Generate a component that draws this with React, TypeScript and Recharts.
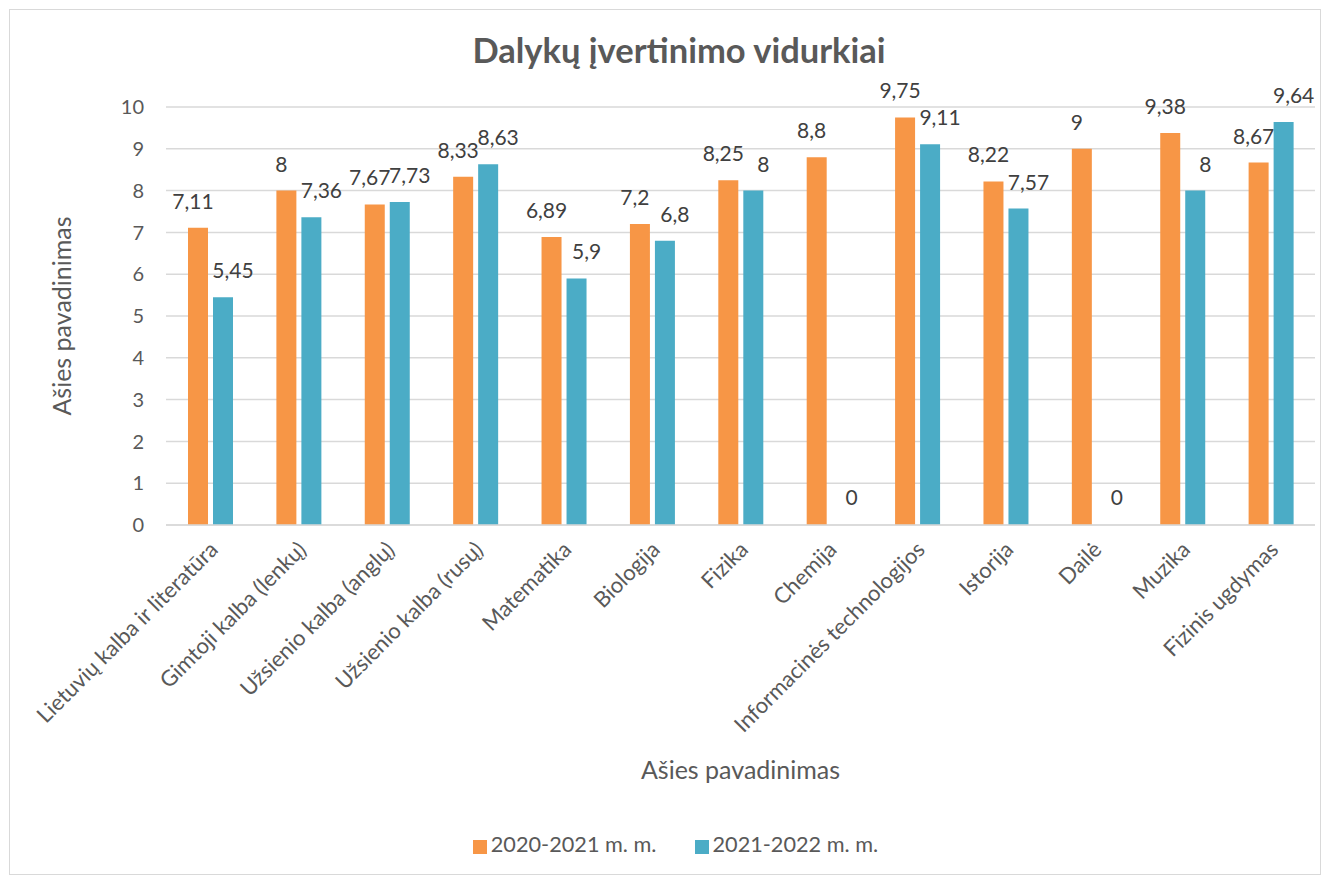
import React from "react";
import {
  BarChart,
  Bar,
  CartesianGrid,
  XAxis,
  YAxis,
  Legend,
  LabelList,
  Rectangle,
} from "recharts";

const subjects = [
  "Lietuvių kalba ir literatūra",
  "Gimtoji kalba (lenkų)",
  "Užsienio kalba (anglų)",
  "Užsienio kalba (rusų)",
  "Matematika",
  "Biologija",
  "Fizika",
  "Chemija",
  "Informacinės technologijos",
  "Istorija",
  "Dailė",
  "Muzika",
  "Fizinis ugdymas",
];

const year2021 = [7.11, 8, 7.67, 8.33, 6.89, 7.2, 8.25, 8.8, 9.75, 8.22, 9, 9.38, 8.67];
const year2022 = [5.45, 7.36, 7.73, 8.63, 5.9, 6.8, 8, 0, 9.11, 7.57, 0, 8, 9.64];

const yTicks = [0, 1, 2, 3, 4, 5, 6, 7, 8, 9, 10];

const data = subjects.map((s, i) => ({
  name: s,
  a: year2021[i],
  b: year2022[i],
}));

const FONT = "Lato, 'Open Sans', sans-serif";
const fmt = (v: any) => String(v).replace(".", ",");

function XTick(props: any) {
  const { x, y, payload } = props;
  const tx = x + 9;
  const ty = y + 18;
  return (
    <text
      x={tx}
      y={ty}
      transform={`rotate(-45, ${tx}, ${ty})`}
      textAnchor="end"
      fill="#595959"
      fontSize={22}
      fontFamily={FONT}
    >
      {payload.value}
    </text>
  );
}

// data label drawn above the bar, shifted a little sideways per series
const makeLabel = (shift: number) => (props: any) => {
  const { x, y, width, value } = props;
  return (
    <text
      x={Number(x) + Number(width) / 2 + shift}
      y={Number(y) - 19}
      textAnchor="middle"
      fill="#404040"
      fontSize={21}
      fontFamily={FONT}
    >
      {fmt(value)}
    </text>
  );
};

// zero values keep a 1px slot (so their label is drawn) but no visible bar
const makeShape = (key: string) => (props: any) => {
  if (props.payload && props.payload[key] === 0) return <g />;
  return <Rectangle {...props} />;
};

export default function App() {
  return (
    <div style={{ position: "absolute", left: 0, top: 0, width: 1324, height: 878, background: "#fff" }}>
      <div
        style={{
          position: "absolute",
          left: 9,
          top: 9,
          width: 1312,
          height: 866,
          border: "1px solid #d9d9d9",
          boxSizing: "border-box",
        }}
      />
      <div
        style={{
          position: "absolute",
          left: 10,
          top: 29,
          width: 1338,
          textAlign: "center",
          fontFamily: FONT,
          fontWeight: 700,
          fontSize: 34.5,
          lineHeight: "42px",
          color: "#595959",
        }}
      >
        Dalykų įvertinimo vidurkiai
      </div>
      <div style={{ position: "absolute", left: 10, top: 10 }}>
        <BarChart
          width={1310}
          height={864}
          data={data}
          margin={{ top: 97, right: 5, left: 0, bottom: 17 }}
          barGap={5}
          barSize={20}
        >
          <CartesianGrid vertical={false} stroke="#d9d9d9" strokeWidth={1.5} />
          <YAxis
            width={156}
            domain={[0, 10]}
            ticks={yTicks}
            axisLine={false}
            tickLine={false}
            tickSize={0}
            tickMargin={22}
            tick={{ fill: "#595959", fontSize: 20, fontFamily: FONT }}
            label={{
              value: "Ašies pavadinimas",
              angle: -90,
              position: "center",
              dx: -26,
              fill: "#595959",
              fontSize: 25,
              fontFamily: FONT,
            }}
          />
          <XAxis
            dataKey="name"
            height={306}
            interval={0}
            axisLine={{ stroke: "#d9d9d9", strokeWidth: 1.5 }}
            tickLine={false}
            tick={<XTick />}
            label={{
              value: "Ašies pavadinimas",
              position: "insideBottom",
              offset: 52,
              fill: "#595959",
              fontSize: 25,
              fontFamily: FONT,
            }}
          />
          <Legend
            verticalAlign="bottom"
            iconType="square"
            iconSize={14}
            height={26}
            wrapperStyle={{ fontFamily: FONT, fontSize: 21.7, paddingLeft: 32 }}
            formatter={(v: any) => (
              <span style={{ color: "#595959", marginRight: 28 }}>{v}</span>
            )}
          />
          <Bar
            dataKey="a"
            name="2020-2021 m. m."
            fill="#F79646"
            minPointSize={1}
            shape={makeShape("a")}
            isAnimationActive={false}
          >
            <LabelList dataKey="a" content={makeLabel(-5)} />
          </Bar>
          <Bar
            dataKey="b"
            name="2021-2022 m. m."
            fill="#4BACC6"
            minPointSize={1}
            shape={makeShape("b")}
            isAnimationActive={false}
          >
            <LabelList dataKey="b" content={makeLabel(10)} />
          </Bar>
        </BarChart>
      </div>
    </div>
  );
}
